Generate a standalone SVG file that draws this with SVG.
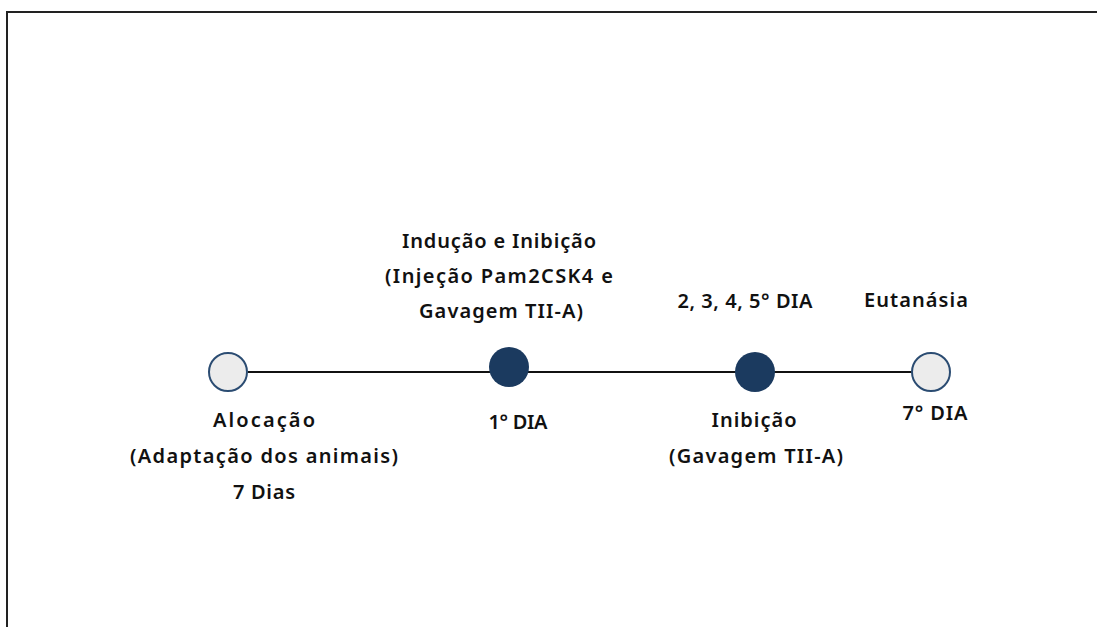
<svg xmlns="http://www.w3.org/2000/svg" width="1097" height="627" viewBox="0 0 1097 627">
<style>
.t{font-family:"Noto Sans","Liberation Sans",sans-serif;font-size:20px;font-weight:600;fill:#111;text-anchor:middle}
.open{fill:#ececec;stroke:#2b4c72;stroke-width:2}
.full{fill:#1b3a5f}
</style>
<rect width="1097" height="627" fill="#fff"/>
<path d="M7 627 V12 H1100" fill="none" stroke="#222" stroke-width="2"/>
<g id="connectors">
<line x1="248" y1="372" x2="912" y2="372" stroke="#111" stroke-width="2"/>
</g>
<g id="n1">
<circle class="open" cx="228" cy="372" r="19"/>
<text class="t" x="264" y="427" textLength="102" lengthAdjust="spacing">Alocação</text>
<text class="t" x="264" y="463" textLength="268" lengthAdjust="spacing">(Adaptação dos animais)</text>
<text class="t" x="264" y="499" textLength="62" lengthAdjust="spacing">7 Dias</text>
</g>
<g id="n2">
<circle class="full" cx="509" cy="367" r="20"/>
<text class="t" x="499" y="248" textLength="194" lengthAdjust="spacing">Indução e Inibição</text>
<text class="t" x="499" y="283" textLength="228" lengthAdjust="spacing">(Injeção Pam2CSK4 e</text>
<text class="t" x="501" y="318" textLength="164" lengthAdjust="spacing">Gavagem TII-A)</text>
<text class="t" x="518" y="429" textLength="59" lengthAdjust="spacing">1° DIA</text>
</g>
<g id="n3">
<circle class="full" cx="755" cy="372" r="20"/>
<text class="t" x="745" y="308" textLength="135" lengthAdjust="spacing">2, 3, 4, 5° DIA</text>
<text class="t" x="754" y="427" textLength="85" lengthAdjust="spacing">Inibição</text>
<text class="t" x="756" y="463" textLength="174" lengthAdjust="spacing">(Gavagem TII-A)</text>
</g>
<g id="n4">
<circle class="open" cx="931" cy="372" r="19"/>
<text class="t" x="916" y="307" textLength="104" lengthAdjust="spacing">Eutanásia</text>
<text class="t" x="935" y="420" textLength="65" lengthAdjust="spacing">7° DIA</text>
</g>
</svg>
